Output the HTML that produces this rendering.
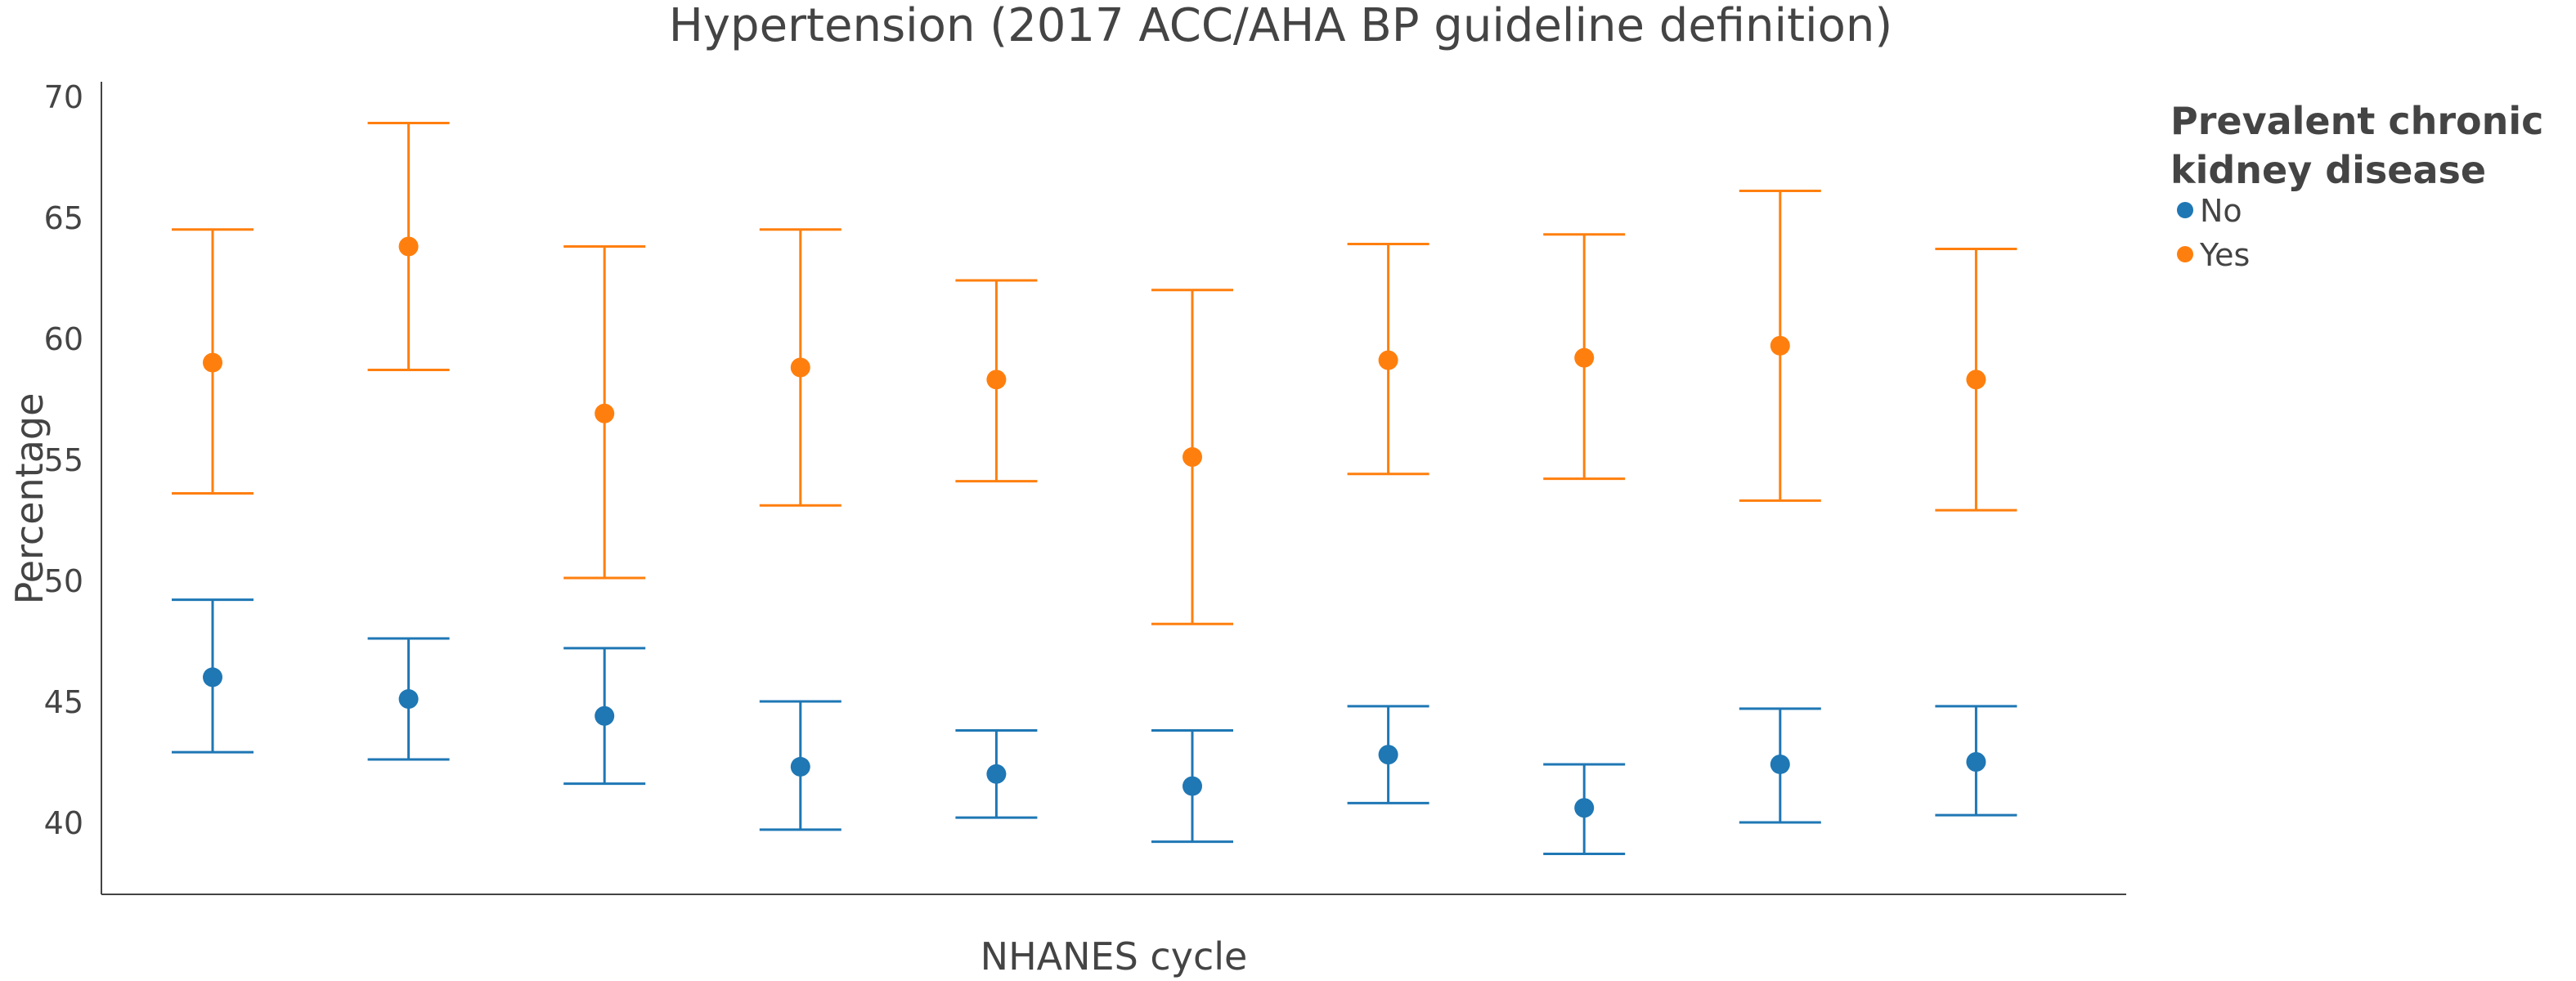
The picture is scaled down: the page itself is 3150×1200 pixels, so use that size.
<!DOCTYPE html>
<html><head><meta charset="utf-8"><style>html,body{margin:0;padding:0;background:#fff}svg{display:block}text{font-family:"DejaVu Sans","Liberation Sans",sans-serif;fill:#444}</style></head>
<body>
<svg id="chart" width="3150" height="1200" viewBox="0 0 3150 1200" xmlns="http://www.w3.org/2000/svg">
<text x="1566" y="50" font-size="56" text-anchor="middle">Hypertension (2017 ACC/AHA BP guideline definition)</text>
<g id="yaxis"></g>
<line x1="124" y1="100" x2="124" y2="1094" stroke="#444" stroke-width="2"/>
<line x1="124" y1="1094" x2="2600" y2="1094" stroke="#444" stroke-width="2"/>
<text transform="translate(52,610) rotate(-90)" font-size="46" text-anchor="middle">Percentage</text>
<text x="1362" y="1186" font-size="46" text-anchor="middle">NHANES cycle</text>
<g id="marks"></g>
<g>
<text x="2654" y="164" font-size="46" font-weight="bold">Prevalent chronic</text>
<text x="2654" y="224" font-size="46" font-weight="bold">kidney disease</text>
<g><circle cx="2672" cy="257" r="10" fill="#1f77b4"/><text x="2690" y="271" font-size="38">No</text></g>
<g><circle cx="2672" cy="311" r="10" fill="#ff7f0e"/><text x="2690" y="325" font-size="38">Yes</text></g>
</g>
</svg>
<script>
const categories = ["1999-2000","2001-2002","2003-2004","2005-2006","2007-2008","2009-2010","2011-2012","2013-2014","2015-2016","2017-2020"];
const noVal = [46.0,45.1,44.4,42.3,42.0,41.5,42.8,40.6,42.4,42.5];
const noLo  = [42.9,42.6,41.6,39.7,40.2,39.2,40.8,38.7,40.0,40.3];
const noHi  = [49.2,47.6,47.2,45.0,43.8,43.8,44.8,42.4,44.7,44.8];
const yesVal = [59.0,63.8,56.9,58.8,58.3,55.1,59.1,59.2,59.7,58.3];
const yesLo  = [53.6,58.7,50.1,53.1,54.1,48.2,54.4,54.2,53.3,52.9];
const yesHi  = [64.5,68.9,63.8,64.5,62.4,62.0,63.9,64.3,66.1,63.7];
const yTicks = [40,45,50,55,60,65,70];

const NS = "http://www.w3.org/2000/svg";
function y(v){ return 118 + (70 - v) * 29.6; }
function x(i){ return 260 + i * 239.6; }
function mk(tag, attrs, parent){ const e=document.createElementNS(NS,tag); for(const k in attrs) e.setAttribute(k,attrs[k]); parent.appendChild(e); return e; }

const ya = document.getElementById('yaxis');
yTicks.forEach(t=>{
  const tx = mk('text',{x:102,y:y(t)+14,'font-size':38,'text-anchor':'end'},ya);
  
  
  tx.textContent = t;
});

const marks = document.getElementById('marks');
function series(vals, lo, hi, color, name){
  categories.forEach((c,i)=>{
    const g = mk('g',{},marks);
    
    
    const cx = x(i), w = 50;
    mk('line',{x1:cx,x2:cx,y1:y(lo[i]),y2:y(hi[i]),stroke:color,'stroke-width':3},g);
    mk('line',{x1:cx-w,x2:cx+w,y1:y(lo[i]),y2:y(lo[i]),stroke:color,'stroke-width':3},g);
    mk('line',{x1:cx-w,x2:cx+w,y1:y(hi[i]),y2:y(hi[i]),stroke:color,'stroke-width':3},g);
    mk('circle',{cx:cx,cy:y(vals[i]),r:12,fill:color},g);
  });
}
series(noVal,noLo,noHi,'#1f77b4','point-no');
series(yesVal,yesLo,yesHi,'#ff7f0e','point-yes');
</script>
</body></html>
